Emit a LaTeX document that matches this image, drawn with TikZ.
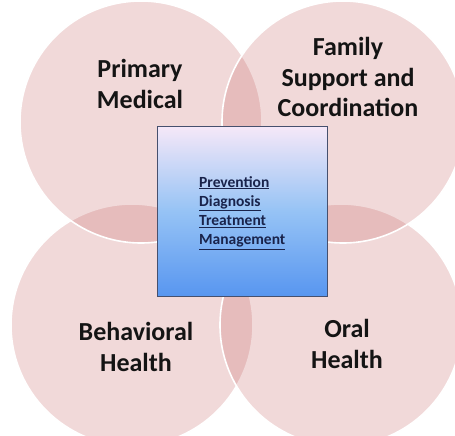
\documentclass[tikz,border=0pt]{standalone}
\usepackage{fontspec}
\setmainfont{Carlito}
\definecolor{rosa}{RGB}{195,95,95}
\definecolor{tekst}{RGB}{20,20,20}
\definecolor{navy}{RGB}{25,35,75}
\definecolor{topfarve}{RGB}{246,232,248}
\definecolor{midtfarve}{RGB}{150,195,245}
\definecolor{bundfarve}{RGB}{88,150,240}
\tikzset{
  felt/.style={circle,minimum size=242pt,inner sep=0pt,fill=rosa,fill opacity=0.23,draw=white,line width=1.6pt,text opacity=1},
  titel/.style={font=\bfseries\fontsize{26}{30.5}\selectfont,text=tekst,align=center},
}
\begin{document}
\begin{tikzpicture}[x=1pt,y=-1pt]
  \useasboundingbox[fill=white] (0,0) rectangle (455,436); %ramme
  \node[felt] (behav) at (132,325) {}; %nederst venstre
  \node[felt] (oral) at (341,325) {}; %nederst hoejre
  \node[felt] (prim) at (141,122) {}; %oeverst venstre
  \node[felt] (fam) at (343,122) {}; %oeverst hoejre
  \node[titel] (primtxt) at (140,84) {Primary\\Medical};
  \node[titel] (famtxt) at (348,77) {Family\\Support and\\Coordination};
  \node[titel] (behavtxt) at (136,347) {Behavioral\\Health};
  \node[titel] (oraltxt) at (347,344) {Oral\\Health};
  \node[draw={rgb,255:red,70;green,80;blue,110},line width=0.6pt,minimum size=170pt,inner sep=0pt,
        top color=topfarve,bottom color=bundfarve,middle color=midtfarve] (kasse) at (242,211) {}; %blaa kasse
  \node[font=\bfseries\fontsize{15.5}{19.2}\selectfont,text=navy,align=left,anchor=north west,inner sep=0pt] (liste) at (199,176)
    {\underline{Prevention}\\\underline{Diagnosis}\\\underline{Treatment}\\\underline{Management}}; %liste
\end{tikzpicture}
\end{document}
